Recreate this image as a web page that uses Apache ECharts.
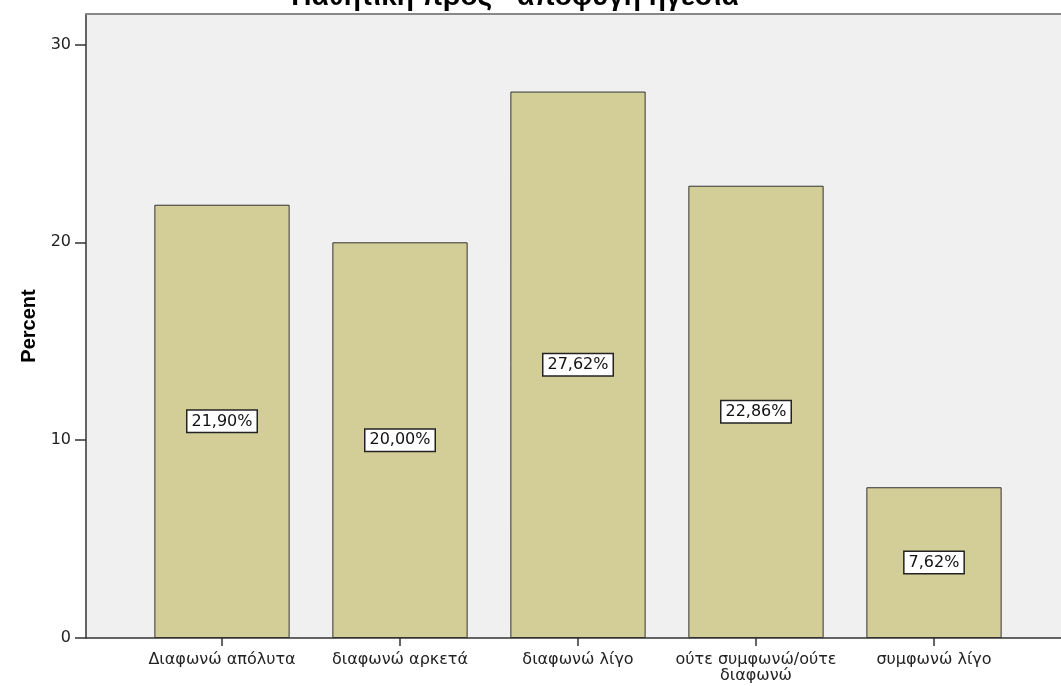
<!DOCTYPE html>
<html><head><meta charset="utf-8">
<script src="https://cdn.jsdelivr.net/npm/echarts@6/dist/echarts.min.js"></script>
<style>html,body{margin:0;padding:0;background:#fff}#c{width:1061px;height:686px}</style>
</head><body><div id="c"></div>
<script>
var categories = ['Διαφωνώ απόλυτα', 'διαφωνώ αρκετά', 'διαφωνώ λίγο', 'ούτε συμφωνώ/ούτε διαφωνώ', 'συμφωνώ λίγο'];
var percents = [21.90, 20.00, 27.62, 22.86, 7.62];
var yTicks = [0, 10, 20, 30];
var titleText = 'Παθητική προς - αποφυγή ηγεσία';
var yName = 'Percent';

var FONT = '"DejaVu Sans", Verdana, sans-serif';
var BFONT = '"Liberation Sans", Arial, sans-serif';
var chart = echarts.init(document.getElementById('c'), null, {renderer: 'canvas'});
var yMax = 31.54;
chart.setOption({
  animation: false,
  graphic: [{
    type: 'text', x: 515, y: 11,
    style: {text: titleText, font: 'bold 28px ' + BFONT, fill: '#000', align: 'center', verticalAlign: 'bottom'}
  }],
  grid: [
    {left: 86, right: 0, top: 14, bottom: 48, show: true, backgroundColor: '#f0f0f0', borderWidth: 0},
    {left: 133, right: 38, top: 14, bottom: 48}
  ],
  xAxis: [
    {gridIndex: 0, type: 'value', min: 0, max: 1, axisLine: {show: true, lineStyle: {color: '#333', width: 1.5}},
     axisTick: {show: false}, axisLabel: {show: false}, splitLine: {show: false}},
    {gridIndex: 0, type: 'value', position: 'top', min: 0, max: 1, axisLine: {show: true, lineStyle: {color: '#888', width: 2}},
     axisTick: {show: false}, axisLabel: {show: false}, splitLine: {show: false}},
    {gridIndex: 1, type: 'category', data: categories,
     axisLine: {show: false}, axisTick: {show: true, alignWithLabel: true, length: 8, lineStyle: {color: '#333', width: 1.5}},
     axisLabel: {color: '#222', fontFamily: FONT, fontSize: 16, margin: 14, lineHeight: 16, interval: 0,
       formatter: function (v) { return v.replace('/ούτε ', '/ούτε\n'); }}}
  ],
  yAxis: [
    {gridIndex: 0, type: 'value', min: 0, max: yMax, interval: 10,
     axisLabel: {color: '#222', fontFamily: FONT, fontSize: 16, margin: 15, customValues: yTicks},
     axisLine: {show: true, lineStyle: {color: '#333', width: 1.5}},
     axisTick: {show: true, length: 11, lineStyle: {color: '#333', width: 1.5}, customValues: yTicks},
     splitLine: {show: false},
     name: yName, nameLocation: 'middle', nameGap: 44, nameRotate: 90,
     nameTextStyle: {fontFamily: BFONT, fontWeight: 'bold', fontSize: 20, color: '#000'}},
    {gridIndex: 1, type: 'value', min: 0, max: yMax, show: false}
  ],
  series: [{
    type: 'bar', xAxisIndex: 2, yAxisIndex: 1, data: percents, barCategoryGap: '24%',
    itemStyle: {color: '#d3ce97', borderColor: '#333', borderWidth: 1},
    label: {show: true, position: 'inside', color: '#111', fontFamily: FONT, fontSize: 16,
      backgroundColor: '#fff', borderColor: '#222', borderWidth: 1.5, padding: [3, 4, 2, 4],
      formatter: function (p) { return p.value.toFixed(2).replace('.', ',') + '%'; }}
  }]
});
</script></body></html>
